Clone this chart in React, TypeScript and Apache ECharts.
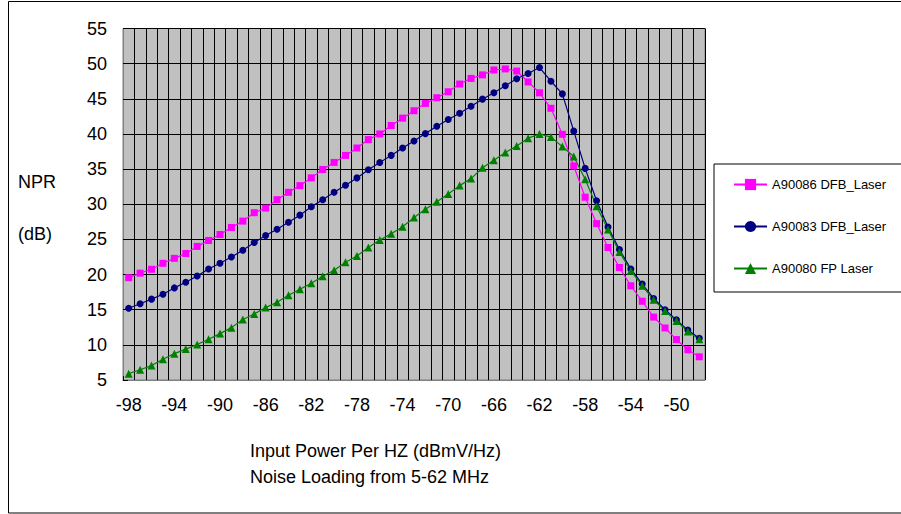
import React, { useEffect, useRef } from "react";
import * as echarts from "echarts";

const categories: string[] = [];
for (let v = -98; v <= -48; v++) categories.push(String(v));

const seriesNames = ["A90086 DFB_Laser", "A90083 DFB_Laser", "A90080 FP Laser"];

const pinkValues = [
  19.55, 20.2, 20.75, 21.6, 22.3, 23.0, 24.0, 24.85, 25.7, 26.7,
  27.6, 28.8, 29.45, 30.65, 31.7, 32.65, 33.75, 34.95, 35.95, 36.95,
  38.0, 39.2, 40.0, 41.2, 42.25, 43.3, 44.35, 45.15, 46.0, 47.1,
  47.9, 48.4, 49.1, 49.25, 48.95, 47.4, 45.85, 43.65, 39.95, 35.45,
  31.0, 27.25, 23.85, 21.0, 18.4, 16.2, 13.95, 12.4, 10.75, 9.3, 8.3,
];

const blueValues = [
  15.2, 15.85, 16.5, 17.2, 18.1, 18.9, 19.8, 20.8, 21.6, 22.5,
  23.45, 24.55, 25.55, 26.45, 27.45, 28.45, 29.65, 30.65, 31.7, 32.7,
  33.75, 34.9, 35.95, 36.95, 38.0, 39.0, 40.05, 41.1, 42.05, 42.95,
  43.95, 44.95, 45.85, 46.85, 47.85, 48.6, 49.45, 47.5, 45.7, 40.4,
  35.1, 30.5, 26.75, 23.55, 20.8, 18.65, 16.6, 15.0, 13.55, 12.1, 10.95,
];

const greenValues = [
  5.9, 6.45, 7.05, 7.95, 8.75, 9.4, 10.05, 10.8, 11.6, 12.45,
  13.6, 14.4, 15.3, 16.05, 17.05, 17.9, 18.75, 19.75, 20.6, 21.75,
  22.65, 23.85, 24.9, 25.8, 26.8, 28.1, 29.3, 30.35, 31.45, 32.65,
  33.65, 35.2, 36.25, 37.35, 38.3, 39.4, 40.0, 39.55, 38.2, 36.8,
  33.55, 29.7, 26.4, 23.2, 20.55, 18.4, 16.4, 14.8, 13.4, 11.9, 10.8,
];

const yAxisTitle = ["NPR", "(dB)"];
const xAxisTitle = ["Input Power Per HZ (dBmV/Hz)", "Noise Loading from 5-62 MHz"];

const FONT = "'Liberation Sans', Arial, sans-serif";

export default function App() {
  const ref = useRef<HTMLDivElement>(null);
  useEffect(() => {
    if (!ref.current) return;
    const chart = echarts.init(ref.current, undefined, { renderer: "svg" });
    const mk = (name: string, data: number[], color: string, symbol: string, size: number) => ({
      name,
      type: "line",
      data,
      symbol,
      symbolSize: size,
      showAllSymbol: true,
      lineStyle: { color, width: 1.2 },
      itemStyle: { color, borderWidth: 0 },
    });
    chart.setOption({
      animation: false,
      backgroundColor: "#ffffff",
      textStyle: { fontFamily: FONT },
      grid: {
        left: 123,
        top: 28.5,
        right: 196,
        bottom: 134,
        show: true,
        backgroundColor: "#C0C0C0",
        borderColor: "#808080",
        borderWidth: 1,
      },
      xAxis: {
        type: "category",
        data: categories,
        boundaryGap: true,
        axisLine: { show: true, lineStyle: { color: "#808080", width: 1 } },
        axisTick: { show: true, inside: true, length: 4, interval: 0, lineStyle: { color: "#000" } },
        axisLabel: {
          interval: 3,
          margin: 16,
          fontSize: 18,
          color: "#000",
          fontFamily: FONT,
        },
        splitLine: { show: true, interval: 0, lineStyle: { color: "#000", width: 1 } },
      },
      yAxis: {
        type: "value",
        min: 5,
        max: 55,
        interval: 5,
        axisLine: { show: true, lineStyle: { color: "#808080", width: 1 } },
        axisTick: { show: true, inside: true, length: 5, lineStyle: { color: "#000" } },
        axisLabel: { margin: 16, fontSize: 18, color: "#000", fontFamily: FONT },
        splitLine: { show: true, lineStyle: { color: "#000", width: 1 } },
      },
      legend: {
        orient: "vertical",
        left: 714,
        top: 164,
        padding: [14, 16, 17, 19],
        itemGap: 29,
        itemWidth: 33,
        itemHeight: 14,
        borderColor: "#000",
        borderWidth: 1,
        backgroundColor: "#fff",
        textStyle: { fontSize: 13, color: "#000", fontFamily: FONT },
        data: seriesNames,
      },
      graphic: [
        {
          type: "rect",
          shape: { x: 8.5, y: 1.5, width: 910, height: 511.5 },
          style: { fill: "none", stroke: "#000", lineWidth: 1 },
          silent: true,
        },
        {
          type: "text",
          x: 18,
          y: 182,
          style: { text: yAxisTitle[0], fontSize: 18, fill: "#000", fontFamily: FONT, verticalAlign: "middle" },
        },
        {
          type: "text",
          x: 18,
          y: 234,
          style: { text: yAxisTitle[1], fontSize: 18, fill: "#000", fontFamily: FONT, verticalAlign: "middle" },
        },
        {
          type: "text",
          x: 250,
          y: 451,
          style: { text: xAxisTitle[0], fontSize: 18, fill: "#000", fontFamily: FONT, verticalAlign: "middle" },
        },
        {
          type: "text",
          x: 250,
          y: 477,
          style: { text: xAxisTitle[1], fontSize: 18, fill: "#000", fontFamily: FONT, verticalAlign: "middle" },
        },
      ],
      series: [
        mk(seriesNames[0], pinkValues, "#FF00FF", "rect", 7),
        mk(seriesNames[1], blueValues, "#000080", "circle", 7),
        mk(seriesNames[2], greenValues, "#008000", "triangle", 8),
      ],
    });
    return () => chart.dispose();
  }, []);
  return <div ref={ref} style={{ position: "fixed", left: 0, top: 0, width: 901, height: 514 }} />;
}
